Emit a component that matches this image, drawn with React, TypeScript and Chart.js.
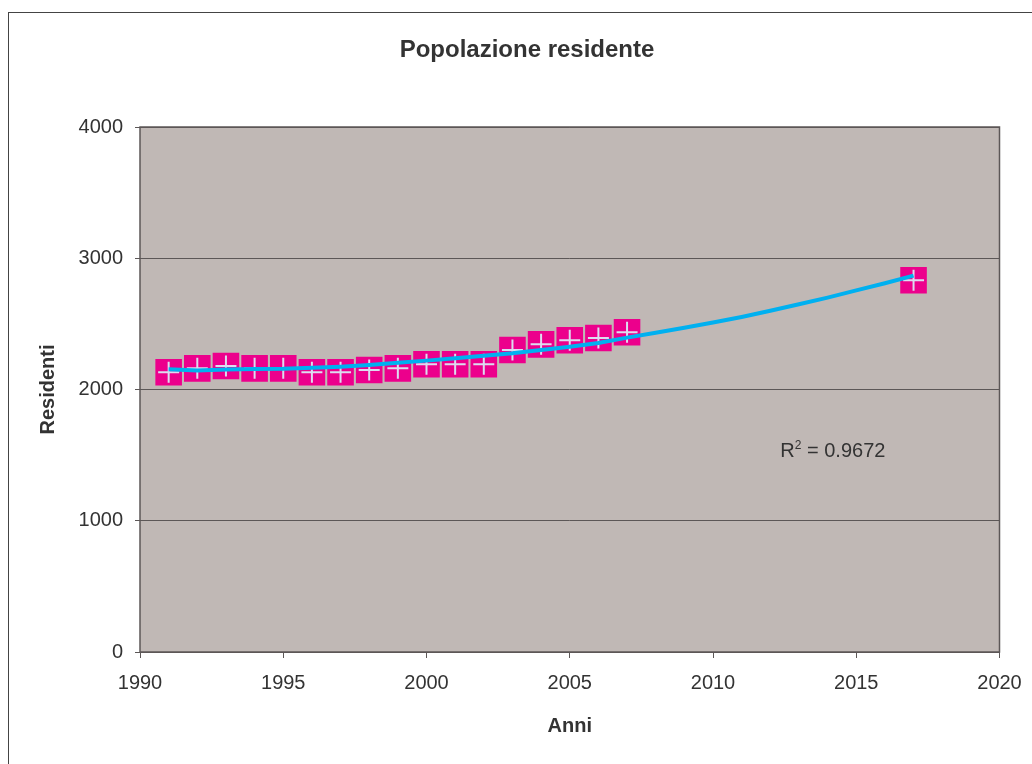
import React, { useEffect, useRef } from "react";
import { Chart, registerables } from "chart.js";

Chart.register(...registerables);

// ---- data ----
const TITLE = "Popolazione residente";
const X_TITLE = "Anni";
const Y_TITLE = "Residenti";

const YEARS = [1991, 1992, 1993, 1994, 1995, 1996, 1997, 1998, 1999, 2000, 2001, 2002, 2003, 2004, 2005, 2006, 2007, 2017];
const RESIDENTS = [2131, 2161, 2179, 2161, 2161, 2131, 2131, 2149, 2161, 2192, 2192, 2192, 2301, 2344, 2375, 2392, 2436, 2832];

const TREND_YEARS = [1991, 1992, 1993, 1994, 1995, 1996, 1997, 1998, 1999, 2000, 2001, 2002, 2003, 2004, 2005, 2006, 2007, 2008, 2009, 2010, 2011, 2012, 2013, 2014, 2015, 2016, 2017];
const TREND_VALUES = [2154, 2145, 2152, 2156, 2158, 2165, 2174, 2187, 2204, 2220, 2238, 2258, 2276, 2301, 2326, 2355, 2395, 2432, 2470, 2510, 2553, 2600, 2650, 2700, 2755, 2810, 2868];

const R2_VALUE = "0.9672";
const R2_AT = { x: 2012.35, y: 1525 };

const X_MIN = 1990;
const X_MAX = 2020;
const X_STEP = 5;
const Y_MIN = 0;
const Y_MAX = 4000;
const Y_STEP = 1000;

// ---- styles ----
const FONT = "'Liberation Sans', Arial, Helvetica, sans-serif";
const TEXT = "#333333";
const PLOT_BG = "#c0b8b5";
const LINE_GRAY = "#5c5757";
const MAGENTA = "#ec008c";
const CROSS = "#dcdcf0";
const TREND = "#00b0f0";
const CANVAS_W = 1036;
const CANVAS_H = 751;

const plotPlugin = {
  id: "plotDecor",
  beforeDraw(chart: any) {
    const { ctx, chartArea: a } = chart;
    ctx.save();
    ctx.fillStyle = PLOT_BG;
    ctx.fillRect(a.left, a.top, a.right - a.left, a.bottom - a.top);
    ctx.restore();
  },
  beforeDatasetsDraw(chart: any) {
    const { ctx, chartArea: a } = chart;
    ctx.save();
    ctx.strokeStyle = LINE_GRAY;
    ctx.lineWidth = 1.5;
    ctx.strokeRect(a.left, a.top, a.right - a.left, a.bottom - a.top);
    ctx.restore();
  },
  afterDatasetsDraw(chart: any) {
    const { ctx, scales } = chart;
    const x = scales.x.getPixelForValue(R2_AT.x);
    const y = scales.y.getPixelForValue(R2_AT.y);
    ctx.save();
    ctx.fillStyle = TEXT;
    ctx.textBaseline = "middle";
    ctx.textAlign = "left";
    ctx.font = `20px ${FONT}`;
    ctx.fillText("R", x, y);
    const rw = ctx.measureText("R").width;
    ctx.font = `12px ${FONT}`;
    ctx.fillText("2", x + rw, y - 6);
    const sw = ctx.measureText("2").width;
    ctx.font = `20px ${FONT}`;
    ctx.fillText(" = " + R2_VALUE, x + rw + sw, y);

    // chart title, centred on the whole chart object
    ctx.font = `bold 24px ${FONT}`;
    ctx.textAlign = "center";
    ctx.textBaseline = "alphabetic";
    ctx.fillText(TITLE, chart.width / 2, 44);
    ctx.restore();
  },
};

export default function App() {
  const ref = useRef<HTMLCanvasElement | null>(null);

  useEffect(() => {
    if (!ref.current) return;
    Chart.defaults.font.family = FONT;
    Chart.defaults.color = TEXT;

    const boxes = YEARS.map((x, i) => ({ x, y: RESIDENTS[i] }));
    const trend = TREND_YEARS.map((x, i) => ({ x, y: TREND_VALUES[i] }));

    const chart = new Chart(ref.current, {
      type: "scatter",
      data: {
        datasets: [
          {
            label: "trend",
            data: trend,
            showLine: true,
            borderColor: TREND,
            borderWidth: 4,
            pointRadius: 0,
            tension: 0,
            order: 0,
          } as any,
          {
            label: "cross",
            data: boxes,
            pointStyle: "cross",
            pointRadius: 10.5,
            pointBorderWidth: 2,
            pointBorderColor: CROSS,
            pointBackgroundColor: CROSS,
            order: 1,
          } as any,
          {
            label: "Residenti",
            data: boxes,
            pointStyle: "rect",
            pointRadius: 18.8,
            pointBorderWidth: 0,
            pointBackgroundColor: MAGENTA,
            pointBorderColor: MAGENTA,
            order: 2,
          } as any,
        ],
      },
      options: {
        animation: false,
        responsive: false,
        events: [],
        layout: { padding: { left: 0, right: 45.5, top: 114, bottom: 0 } },
        plugins: {
          legend: { display: false },
          tooltip: { enabled: false },
          title: { display: false },
        },
        scales: {
          x: {
            type: "linear",
            min: X_MIN,
            max: X_MAX,
            afterFit: (s: any) => {
              s.height = 112;
            },
            ticks: {
              stepSize: X_STEP,
              color: TEXT,
              font: { size: 20, family: FONT },
              padding: 13,
              maxRotation: 0,
              callback: (v: any) => String(v),
            },
            grid: {
              drawOnChartArea: false,
              drawTicks: true,
              tickLength: 6,
              color: LINE_GRAY,
              lineWidth: 1,
            },
            border: { display: false },
            title: {
              display: true,
              text: X_TITLE,
              color: TEXT,
              font: { size: 20, weight: "bold", family: FONT },
              padding: { top: 0, bottom: 25.3 },
            },
          },
          y: {
            type: "linear",
            min: Y_MIN,
            max: Y_MAX,
            afterFit: (s: any) => {
              s.width = 131;
            },
            ticks: {
              stepSize: Y_STEP,
              color: TEXT,
              font: { size: 20, family: FONT },
              padding: 12,
              callback: (v: any) => String(v),
            },
            grid: {
              drawTicks: true,
              tickLength: 5,
              color: LINE_GRAY,
              lineWidth: 1,
            },
            border: { display: false },
            title: {
              display: true,
              text: Y_TITLE,
              color: TEXT,
              font: { size: 20, weight: "bold", family: FONT },
              padding: { top: 27, bottom: 0 },
            },
          },
        },
      } as any,
      plugins: [plotPlugin],
    });

    return () => chart.destroy();
  }, []);

  return (
    <div
      style={{
        position: "fixed",
        left: 8,
        top: 12,
        width: 1024,
        height: 752,
        boxSizing: "border-box",
        borderTop: "1px solid #444",
        borderLeft: "1px solid #444",
        overflow: "hidden",
        background: "#fff",
      }}
    >
      <canvas
        ref={ref}
        width={CANVAS_W}
        height={CANVAS_H}
        style={{ display: "block", width: CANVAS_W, height: CANVAS_H }}
      />
    </div>
  );
}
